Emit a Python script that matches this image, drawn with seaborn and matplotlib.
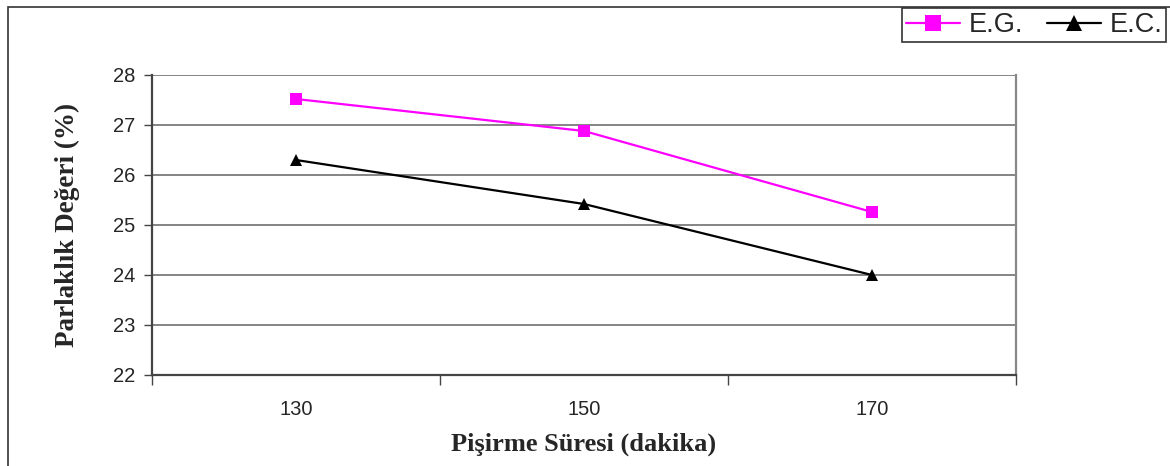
import numpy as np
import pandas as pd
import matplotlib
matplotlib.use("Agg")
import matplotlib.pyplot as plt
import matplotlib.patches as mpatches
import seaborn as sns

# ---- data ------------------------------------------------------------------
sure = ["130", "150", "170"]                 # Pişirme Süresi (dakika)
eg_vals = [27.52, 26.88, 25.26]              # E.G.
ec_vals = [26.30, 25.42, 24.00]              # E.C.

df = pd.DataFrame({
    "sure": sure * 2,
    "deger": eg_vals + ec_vals,
    "seri": ["E.G."] * 3 + ["E.C."] * 3,
})
df["x"] = df["sure"].map({s: i for i, s in enumerate(sure)})

sns.set_theme(style="white")
plt.rcParams["font.family"] = ["Liberation Sans", "DejaVu Sans"]

fig = plt.figure(figsize=(11.7, 4.66), dpi=100)
ax = fig.add_axes([152 / 1170, 91 / 466, 864 / 1170, 300 / 466])

sns.lineplot(data=df, x="x", y="deger", hue="seri", style="seri",
             palette={"E.G.": "#ff00ff", "E.C.": "black"},
             markers={"E.G.": "s", "E.C.": "^"}, dashes=False,
             markersize=9, markeredgewidth=0, linewidth=1.6, ax=ax)

ax.set_xlim(-0.5, len(sure) - 0.5)
ax.set_ylim(22, 28)
ax.set_yticks(range(22, 29))
ax.set_xticks(range(len(sure)))
ax.set_xticklabels(sure)
ax.set_xticks(np.arange(-0.5, len(sure), 1.0), minor=True)
ax.tick_params(axis="x", which="major", length=0, pad=18, labelsize=14.5)
ax.tick_params(axis="x", which="minor", length=7, width=1, color="#444444",
               direction="out", bottom=True)
ax.tick_params(axis="y", length=6, width=1, color="#444444", direction="out",
               left=True, labelsize=14.5, pad=6)
ax.grid(axis="y", color="#707070", linewidth=1.2)
ax.set_axisbelow(True)

for side in ["left", "bottom"]:
    ax.spines[side].set_color("#444444")
    ax.spines[side].set_linewidth(1.6)
ax.spines["right"].set_color("#888888")
ax.spines["right"].set_linewidth(1.6)
ax.spines["top"].set_visible(False)

serif = ["Liberation Serif", "DejaVu Serif"]
ax.set_xlabel("Pişirme Süresi (dakika)", labelpad=10,
              family=serif, weight="bold", size=19)
ax.set_ylabel("Parlaklık Değeri (%)", labelpad=24,
              family=serif, weight="bold", size=19.5)

# legend across the top right, clipped by the figure edge
handles, labels = ax.get_legend_handles_labels()
ax.get_legend().remove()
order = [labels.index("E.G."), labels.index("E.C.")]
for h in handles:
    h.set_markersize(11)
leg = fig.legend([handles[i] for i in order], [labels[i] for i in order],
                 loc="upper left", bbox_to_anchor=(902 / 1170, 1 - 8 / 466),
                 ncol=2, frameon=True, fancybox=False, framealpha=1,
                 edgecolor="#333333", fontsize=19.5, handlelength=2.0,
                 handletextpad=0.3, columnspacing=0.9, borderpad=0.15,
                 borderaxespad=0)
leg.get_frame().set_linewidth(1.2)

# outer chart frame (only left and top edges are visible)
fig.patches.append(mpatches.Rectangle((8 / 1170, -0.1), 1.2, 1.1 - 7 / 466,
                                      transform=fig.transFigure, fill=False,
                                      edgecolor="#333333", linewidth=1.2))

fig.savefig("out.png", dpi=100)
